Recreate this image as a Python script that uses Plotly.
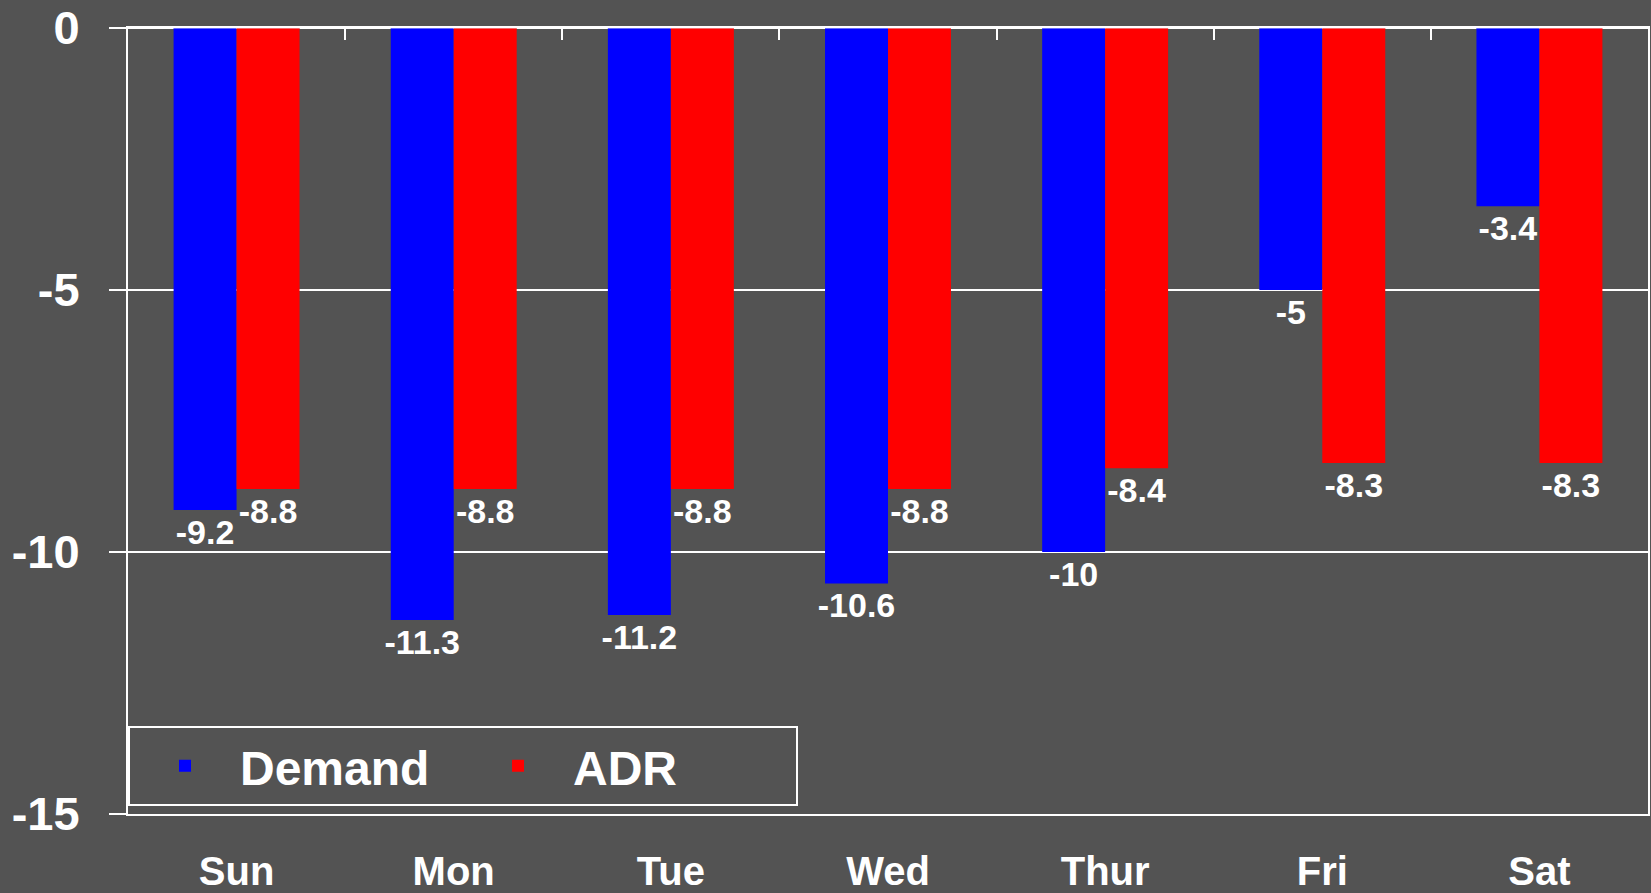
import plotly.graph_objects as go

days = ["Sun", "Mon", "Tue", "Wed", "Thur", "Fri", "Sat"]
demand = [-9.2, -11.3, -11.2, -10.6, -10, -5, -3.4]
adr = [-8.8, -8.8, -8.8, -8.8, -8.4, -8.3, -8.3]
y_ticks = [0, -5, -10, -15]

BG = "#535353"
FONT = "Liberation Sans"

fig = go.Figure()
for name, vals, color in [("Demand", demand, "#0000FF"), ("ADR", adr, "#FF0000")]:
    fig.add_trace(go.Bar(
        name=name, x=days, y=vals, marker=dict(color=color, line=dict(width=0)),
        text=[f"{v:g}" for v in vals], textposition="outside", cliponaxis=False,
        constraintext="none",
        textfont=dict(family=FONT, size=34, color="white", weight="bold"),
    ))

fig.update_layout(
    width=1651, height=893,
    paper_bgcolor=BG, plot_bgcolor=BG,
    margin=dict(l=128, r=3, t=28, b=79, autoexpand=False),
    barmode="group", bargap=0.42, bargroupgap=0,
    font=dict(family=FONT, color="white", weight="bold"),
    showlegend=True,
    legend=dict(
        x=0, y=0.01, xanchor="left", yanchor="bottom",
        orientation="h", bgcolor=BG, bordercolor="white", borderwidth=2,
        font=dict(family=FONT, size=48, color="white", weight="bold"),
        entrywidth=218, entrywidthmode="pixels",
        itemwidth=100,
    ),
    xaxis=dict(
        showline=True, linecolor="white", linewidth=2, mirror=True,
        ticks="", showgrid=False, automargin=False,
        tickfont=dict(family=FONT, size=40, color="white", weight="bold"),
        ticklabelstandoff=21,
    ),
    xaxis2=dict(
        overlaying="x", matches="x", side="top", anchor="y", automargin=False,
        ticks="inside", ticklen=12, tickwidth=2, tickcolor="white",
        tickson="boundaries", showticklabels=False, showline=False, showgrid=False,
    ),
    yaxis=dict(
        range=[-15, 0], tickvals=y_ticks, ticktext=[str(v) for v in y_ticks],
        showline=True, linecolor="white", linewidth=2, mirror=True,
        showgrid=True, gridcolor="white", gridwidth=2, automargin=False,
        zeroline=True, zerolinecolor="white", zerolinewidth=2,
        ticks="outside", ticklen=17, tickwidth=2, tickcolor="white",
        tickfont=dict(family=FONT, size=47, color="white", weight="bold"),
        ticklabelstandoff=20,
    ),
)
# invisible helper trace so the top category-boundary ticks are drawn
fig.add_trace(go.Bar(x=days, y=[0] * len(days), xaxis="x2", showlegend=False,
                     hoverinfo="skip", marker=dict(color="rgba(0,0,0,0)")))

fig.write_html("out.html", config={"displayModeBar": False},
               post_script="document.body.style.margin='0';document.body.style.overflow='hidden';")
